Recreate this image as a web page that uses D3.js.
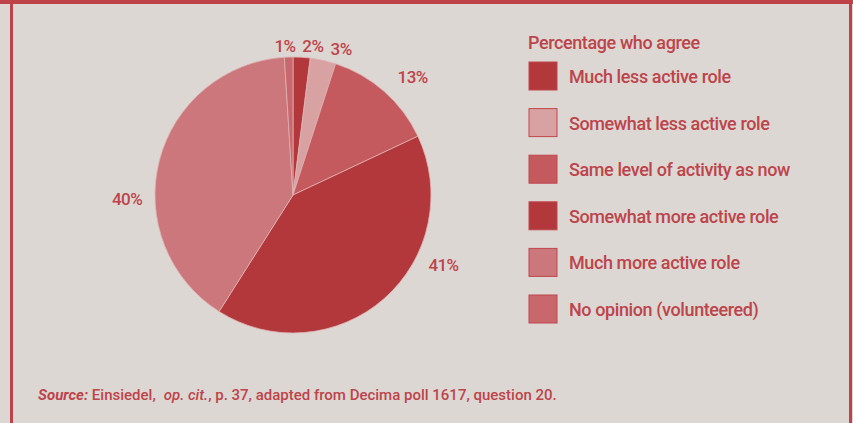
<!DOCTYPE html>
<html>
<head>
<meta charset="utf-8">
<script src="https://cdn.jsdelivr.net/npm/d3@7"></script>
<style>
  html, body { margin: 0; padding: 0; background: #dcd7d3; }
  svg { display: block; }
  text { font-family: "Liberation Sans Narrow", "Arial Narrow", "Roboto", sans-serif; fill: #bd444a; font-weight: 500; }
</style>
</head>
<body>
<svg id="chart" width="853" height="423"></svg>
<script>
// Decima poll 1617, question 20 — share of respondents agreeing with each option
const categories = [
  "Much less active role",
  "Somewhat less active role",
  "Same level of activity as now",
  "Somewhat more active role",
  "Much more active role",
  "No opinion (volunteered)"
];
const values = [2, 3, 13, 41, 40, 1];
const valueLabels = ["2%", "3%", "13%", "41%", "40%", "1%"];
const legendTitle = "Percentage who agree";

const fills = ["#b3383c", "#d9a2a2", "#c45a5e", "#b3383c", "#cb777b", "#c8686c"];

const W = 853, H = 423;
const cx = 293, cy = 195, R = 138;

const svg = d3.select("#chart");

// frame: heavy rule on top, thin rules at the sides
svg.append("rect").attr("x", 0).attr("y", 0).attr("width", W).attr("height", 4).attr("fill", "#bf4248");
svg.append("rect").attr("x", 10).attr("y", 0).attr("width", 3).attr("height", H).attr("fill", "#bf4248");
svg.append("rect").attr("x", 849).attr("y", 0).attr("width", 3).attr("height", H).attr("fill", "#bf4248");

const pie = d3.pie().sort(null).value(d => d)(values);
const arc = d3.arc().innerRadius(0).outerRadius(R);

const g = svg.append("g").attr("transform", `translate(${cx},${cy})`);
g.selectAll("path.slice")
  .data(pie)
  .join("path")
  .attr("class", "slice")
  .attr("d", arc)
  .attr("fill", (d, i) => fills[i])
  .attr("stroke", "#e0b2b2")
  .attr("stroke-width", 0.8);

// label placement: angular nudge (degrees) and distance from centre for each label
const labelNudge = [4, 5.6, 4, -23.6, -15.8, -1.3];
const labelRadius = [150, 154, 168, 166, 166, 149];
g.selectAll("text.val")
  .data(pie)
  .join("text")
  .attr("class", "val")
  .attr("transform", (d, i) => {
    const a = (d.startAngle + d.endAngle) / 2 + labelNudge[i] * Math.PI / 180;
    const p = d3.arc().innerRadius(labelRadius[i]).outerRadius(labelRadius[i]).startAngle(a).endAngle(a).centroid();
    return `translate(${p[0]},${p[1]})`;
  })
  .attr("text-anchor", "middle")
  .attr("dy", "0.35em")
  .attr("font-size", 17)
  .attr("letter-spacing", -0.6)
  .text((d, i) => valueLabels[i]);

// legend
const lx = 529, ly = 62, step = 46.6, sw = 28;
svg.append("text")
  .attr("x", lx - 1).attr("y", 49)
  .attr("font-size", 18)
  .attr("letter-spacing", -0.4)
  .text(legendTitle);

const leg = svg.selectAll("g.leg")
  .data(categories)
  .join("g")
  .attr("class", "leg")
  .attr("transform", (d, i) => `translate(${lx},${ly + i * step})`);
leg.append("rect")
  .attr("width", sw).attr("height", sw)
  .attr("fill", (d, i) => fills[i])
  .attr("stroke", "#bf474d").attr("stroke-width", 1);
leg.append("text")
  .attr("x", 40).attr("y", 21)
  .attr("font-size", 18)
  .attr("letter-spacing", -0.4)
  .text(d => d);

// source line
const src = svg.append("text").attr("x", 38).attr("y", 400).attr("font-size", 15);
src.append("tspan").attr("font-style", "italic").attr("font-weight", "bold").text("Source:");
src.append("tspan").text(" Einsiedel,");
src.append("tspan").attr("dx", 8).attr("font-style", "italic").text("op. cit.");
src.append("tspan").text(", p. 37, adapted from Decima poll 1617, question 20.");
</script>
</body>
</html>
